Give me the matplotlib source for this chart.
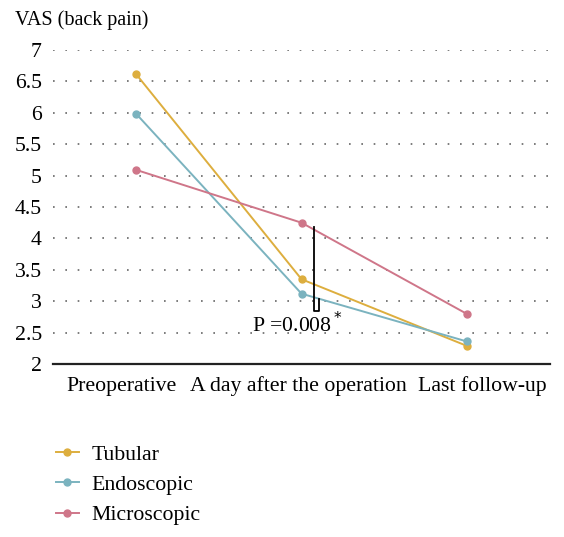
import numpy as np
import matplotlib
matplotlib.use("Agg")
from matplotlib import pyplot as plt
from matplotlib import transforms as mtransforms

# data
stages = ["Preoperative", "A day after the operation", "Last follow-up"]
tubular = [6.61, 3.35, 2.29]
endoscopic = [5.98, 3.12, 2.36]
microscopic = [5.09, 4.25, 2.80]
y_ticks = [2, 2.5, 3, 3.5, 4, 4.5, 5, 5.5, 6, 6.5, 7]
y_labels = ["2", "2.5", "3", "3.5", "4", "4.5", "5", "5.5", "6", "6.5", "7"]

plt.rcParams['font.family'] = ['Liberation Serif', 'DejaVu Serif']
fs = 15.7

fig = plt.figure(figsize=(5.64, 5.37), dpi=100)
ax = fig.add_axes([53 / 564, 1 - 364 / 537, 497 / 564, 314 / 537])

x = np.arange(len(stages))
series = [("Tubular", tubular, "#DDAE3E"),
          ("Endoscopic", endoscopic, "#7BB3BF"),
          ("Microscopic", microscopic, "#CF7689")]
for name, vals, col in series:
    ax.plot(x, vals, color=col, lw=1.4, marker="o", ms=5, label=name)

ax.set_xlim(-0.505, 2.505)
ax.set_ylim(2, 7)
ax.set_xticks(x)
ax.set_xticklabels(stages, fontsize=fs)
ax.set_yticks(y_ticks)
ax.set_yticklabels(y_labels, fontsize=fs)
ax.tick_params(length=0, pad=8)
ax.tick_params(axis="x", pad=9)

# the source spreads the category labels apart a little
shifts = [-15, -3, 16]
for lab, dx in zip(ax.get_xticklabels(), shifts):
    off = mtransforms.ScaledTranslation(dx / 100, 0, fig.dpi_scale_trans)
    lab.set_transform(lab.get_transform() + off)

for v in y_ticks[1:]:
    ax.axhline(v, color="#666666", lw=1.2, ls=(0, (1, 6.4)), zorder=0)

for s in ["top", "right", "left"]:
    ax.spines[s].set_visible(False)
ax.spines["bottom"].set_linewidth(1.6)
ax.spines["bottom"].set_color("#222222")

# significance bracket
ax.plot([1.073, 1.073, 1.109, 1.109], [4.18, 2.84, 2.84, 3.03],
        color="black", lw=1.3, zorder=5)
ax.text(0.975, 2.62, "P =0.008$^*$", ha="center", va="center", fontsize=fs)

fig.text(15 / 564, 1 - 20 / 537, "VAS (back pain)", ha="left", va="center", fontsize=14.5)

ax.legend(loc="upper left", bbox_to_anchor=(-0.034, -0.194), frameon=False,
          fontsize=fs, handlelength=1.05, labelspacing=0.46, handletextpad=0.6)

fig.savefig("out.png", dpi=100)
